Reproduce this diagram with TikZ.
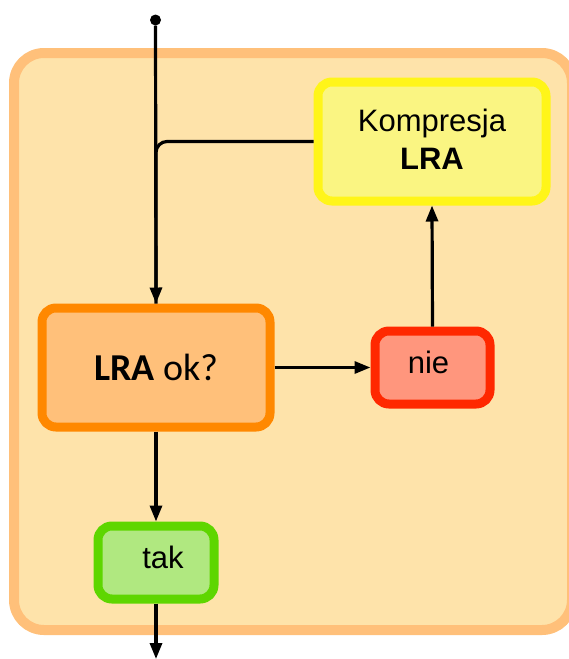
\documentclass[tikz,border=0pt]{standalone}
\usepackage{fontspec}
\setmainfont{Liberation Sans}
\newfontfamily\calfont{Carlito}
\usetikzlibrary{arrows.meta}
\definecolor{outerfill}{RGB}{254,227,170}
\definecolor{outerline}{RGB}{255,192,122}
\definecolor{kfill}{RGB}{250,245,130}
\definecolor{kline}{RGB}{255,245,25}
\definecolor{lfill}{RGB}{255,192,122}
\definecolor{lline}{RGB}{255,136,0}
\definecolor{nfill}{RGB}{255,150,125}
\definecolor{nline}{RGB}{255,40,0}
\definecolor{tfill}{RGB}{176,232,128}
\definecolor{tline}{RGB}{94,214,0}
\tikzset{
  boxstyle/.style={draw, rectangle, rounded corners=14pt, line width=9pt, inner sep=0pt, font=\fontsize{31}{38}\selectfont},
  conn/.style={line width=3.2pt, draw=black},
  arr/.style={conn, -{Triangle[length=16pt,width=12pt]}},
}
\begin{document}
\begin{tikzpicture}[x=1pt, y=-1pt]
\useasboundingbox (0,0) rectangle (568,659);
% outer container
\draw[fill=outerfill, draw=outerline, line width=10pt, rounded corners=30pt] (14,53) rectangle (572,630);
% nodes
\node[circle, fill=black, inner sep=0pt, minimum size=11pt] (start) at (155.5,20) {};
\node[boxstyle, fill=kfill, draw=kline, minimum width=228pt, minimum height=119pt, align=center] (komp) at (432,141.5) {\raisebox{4pt}{Kompresja}\\\raisebox{4pt}{\textbf{LRA}}};
\node[boxstyle, fill=lfill, draw=lline, minimum width=228pt, minimum height=119pt, font=\calfont\fontsize{38}{44}\selectfont] (lra) at (156,367.5) {\textbf{LRA} ok?};
\node[boxstyle, fill=nfill, draw=nline, minimum width=115pt, minimum height=73pt,
  label={[xshift=-4pt, yshift=5pt, font=\fontsize{31}{38}\selectfont]center:nie}] (nie) at (432.5,367.5) {};
\node[boxstyle, fill=tfill, draw=tline, minimum width=116pt, minimum height=73pt,
  label={[xshift=7pt, yshift=5pt, font=\fontsize{31}{38}\selectfont]center:tak}] (tak) at (156,562.5) {};
\coordinate (end) at (156,659);
% connectors
\draw[conn, rounded corners=11pt] (komp.west) -| (lra.north);
\draw[arr] (start) -- (lra.north);
\draw[arr] (lra.east) -- (nie.west);
\draw[arr] (nie.north) -- (komp.south);
\draw[arr] (lra.south) -- (tak.north);
\draw[arr] (tak.south) -- (end);
\end{tikzpicture}
\end{document}
